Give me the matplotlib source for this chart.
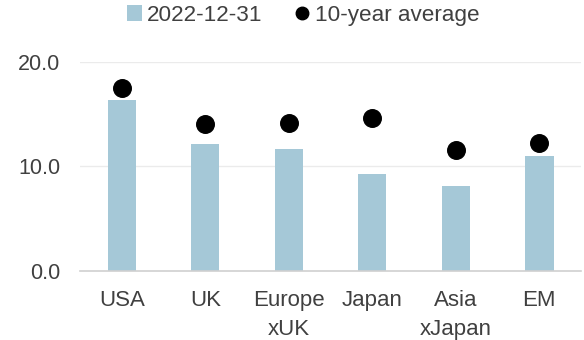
import matplotlib
matplotlib.use("Agg")
import matplotlib.pyplot as plt
from matplotlib.lines import Line2D
from matplotlib.patches import Patch

plt.rcParams['font.family'] = ['Liberation Sans', 'DejaVu Sans']

regions = ["USA", "UK", "Europe\nxUK", "Japan", "Asia\nxJapan", "EM"]
current = [16.4, 12.1, 11.7, 9.3, 8.1, 11.0]
avg10 = [17.5, 14.1, 14.2, 14.6, 11.6, 12.2]

bar_col = '#a5c8d7'
txt_col = '#404040'

fig = plt.figure(figsize=(5.84, 3.40), dpi=100)
ax = fig.add_axes([0.137, 0.203, 0.858, 0.615])

xs = range(len(regions))
ax.bar(xs, current, width=0.34, color=bar_col, zorder=2)
ax.scatter(xs, avg10, s=160, color='black', zorder=3)

ax.set_xlim(-0.5, len(regions) - 0.5)
ax.set_ylim(0, 20)
ax.set_yticks([0, 10, 20])
ax.set_yticklabels(["0.0", "10.0", "20.0"])
ax.set_xticks(list(xs))
ax.set_xticklabels(regions, linespacing=1.45)
ax.yaxis.grid(True, color='#ebebeb', linewidth=1, zorder=0)
ax.set_axisbelow(True)
for s in ['top', 'right', 'left']:
    ax.spines[s].set_visible(False)
ax.spines['bottom'].set_color('#d0d0d0')
ax.spines['bottom'].set_linewidth(1.2)
ax.tick_params(length=0, colors=txt_col)
ax.tick_params(axis='x', labelsize=16, pad=14)
ax.tick_params(axis='y', labelsize=15.5, pad=14)

handles = [Patch(facecolor=bar_col, label='2022-12-31'),
           Line2D([], [], marker='o', color='black', linestyle='none', markersize=9, label='10-year average')]
fig.legend(handles=handles, loc='upper center', bbox_to_anchor=(0.519, 1.045), ncol=2, frameon=False,
           fontsize=16.2, labelcolor=txt_col, handlelength=0.65, handletextpad=0.25, columnspacing=1.4)

fig.savefig('out.png', dpi=100)
